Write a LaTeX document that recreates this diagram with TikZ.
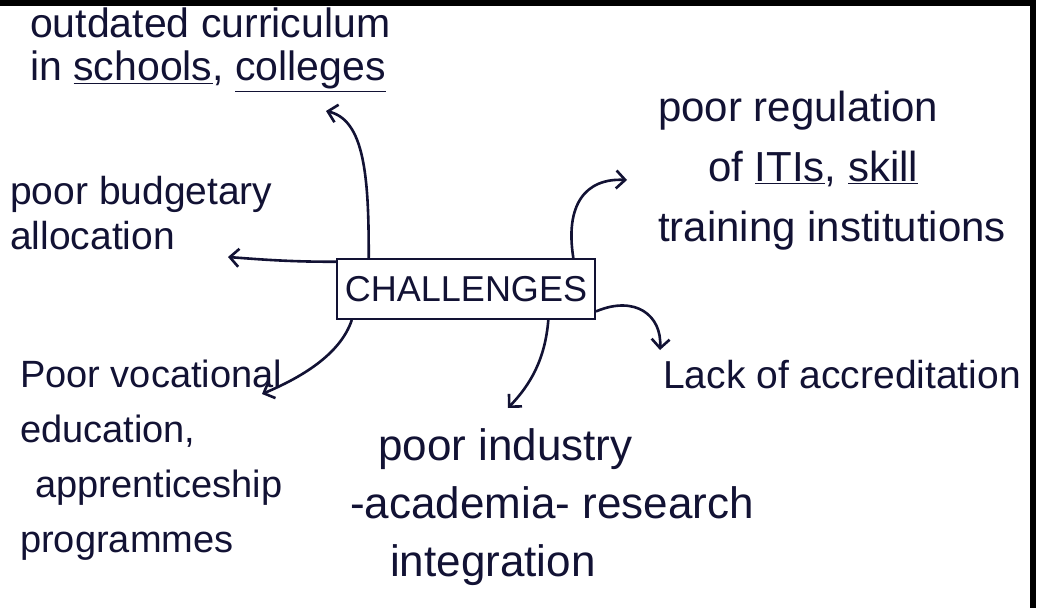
\documentclass[tikz,border=0pt]{standalone}
\usepackage{fontspec}
\setmainfont{Liberation Sans}
\usetikzlibrary{arrows.meta}
\definecolor{ink}{RGB}{18,18,52}
\tikzset{
  note/.style={inner sep=0pt, align=left, text=ink, anchor=north west},
  hub/.style={draw=ink, line width=2.6pt, minimum width=258pt, minimum height=60pt,
              inner sep=0pt, text=ink, font=\fontsize{36}{40}\selectfont},
  arr/.style={draw=ink, line width=2.6pt, line cap=round,
              -{Straight Barb[length=9pt,width=18pt]}},
  frame/.style={fill=black}
}
\newcommand{\fsz}[2]{\fontsize{#1}{#2}\selectfont}
\begin{document}
\begin{tikzpicture}[x=1pt,y=-1pt]
  % page and its ruled edges
  \fill[white] (0,0) rectangle (1050,608);
  \useasboundingbox (0,0) rectangle (1050,608);
  \fill[frame] (0,0) rectangle (1036,6);
  \fill[frame] (1030,0) rectangle (1036,608);

  % central box
  \node[hub] (ch) at (466,289) {CHALLENGES};

  % surrounding notes
  \node[note, font=\fsz{41}{43}] (cur) at (30,8)
    {outdated curriculum\\in \underline{schools}, \underline{colleges}};
  \node[note, font=\fsz{39}{45}] (bud) at (10,176)
    {poor budgetary\\allocation};
  \node[note, font=\fsz{42}{60}] (reg) at (658,91)
    {poor regulation\\\hspace*{50pt}of \underline{ITIs}, \underline{skill}\\training institutions};
  \node[inner sep=0pt, text=ink, anchor=base west, font=\fsz{39}{45}] (acc) at (663,388)
    {Lack of accreditation};
  \node[note, font=\fsz{38}{55}] (voc) at (20,360)
    {Poor vocational\\education,\\\hspace*{15pt}apprenticeship\\programmes};
  \node[note, font=\fsz{44}{58}] (ind) at (350,428)
    {\hspace*{28pt}poor industry\\-academia- research\\\hspace*{40pt}integration};

  % arrow tips near each note
  \coordinate (curTip) at (326,111);
  \coordinate (budTip) at (228,257);
  \coordinate (regTip) at (627,180);
  \coordinate (accTip) at (660,350);
  \coordinate (indTip) at (508,408);
  \coordinate (vocTip) at (262,394);

  % connectors
  \draw[arr] ([xshift=33pt]ch.north west) .. controls (369,175) and (364,120) .. (curTip);
  \draw[arr] ([yshift=-4pt]ch.north west) .. controls (290,262) and (255,259) .. (budTip);
  \draw[arr] ([xshift=-23pt]ch.north east) .. controls (565,205) and (585,178) .. (regTip);
  \draw[arr] ([yshift=9pt]ch.south east) .. controls (635,295) and (662,315) .. (accTip);
  \draw[arr] ([xshift=-48pt]ch.south east) .. controls (545,360) and (530,385) .. (indTip);
  \draw[arr] ([xshift=16pt]ch.south west) .. controls (340,355) and (300,378) .. (vocTip);
\end{tikzpicture}
\end{document}
